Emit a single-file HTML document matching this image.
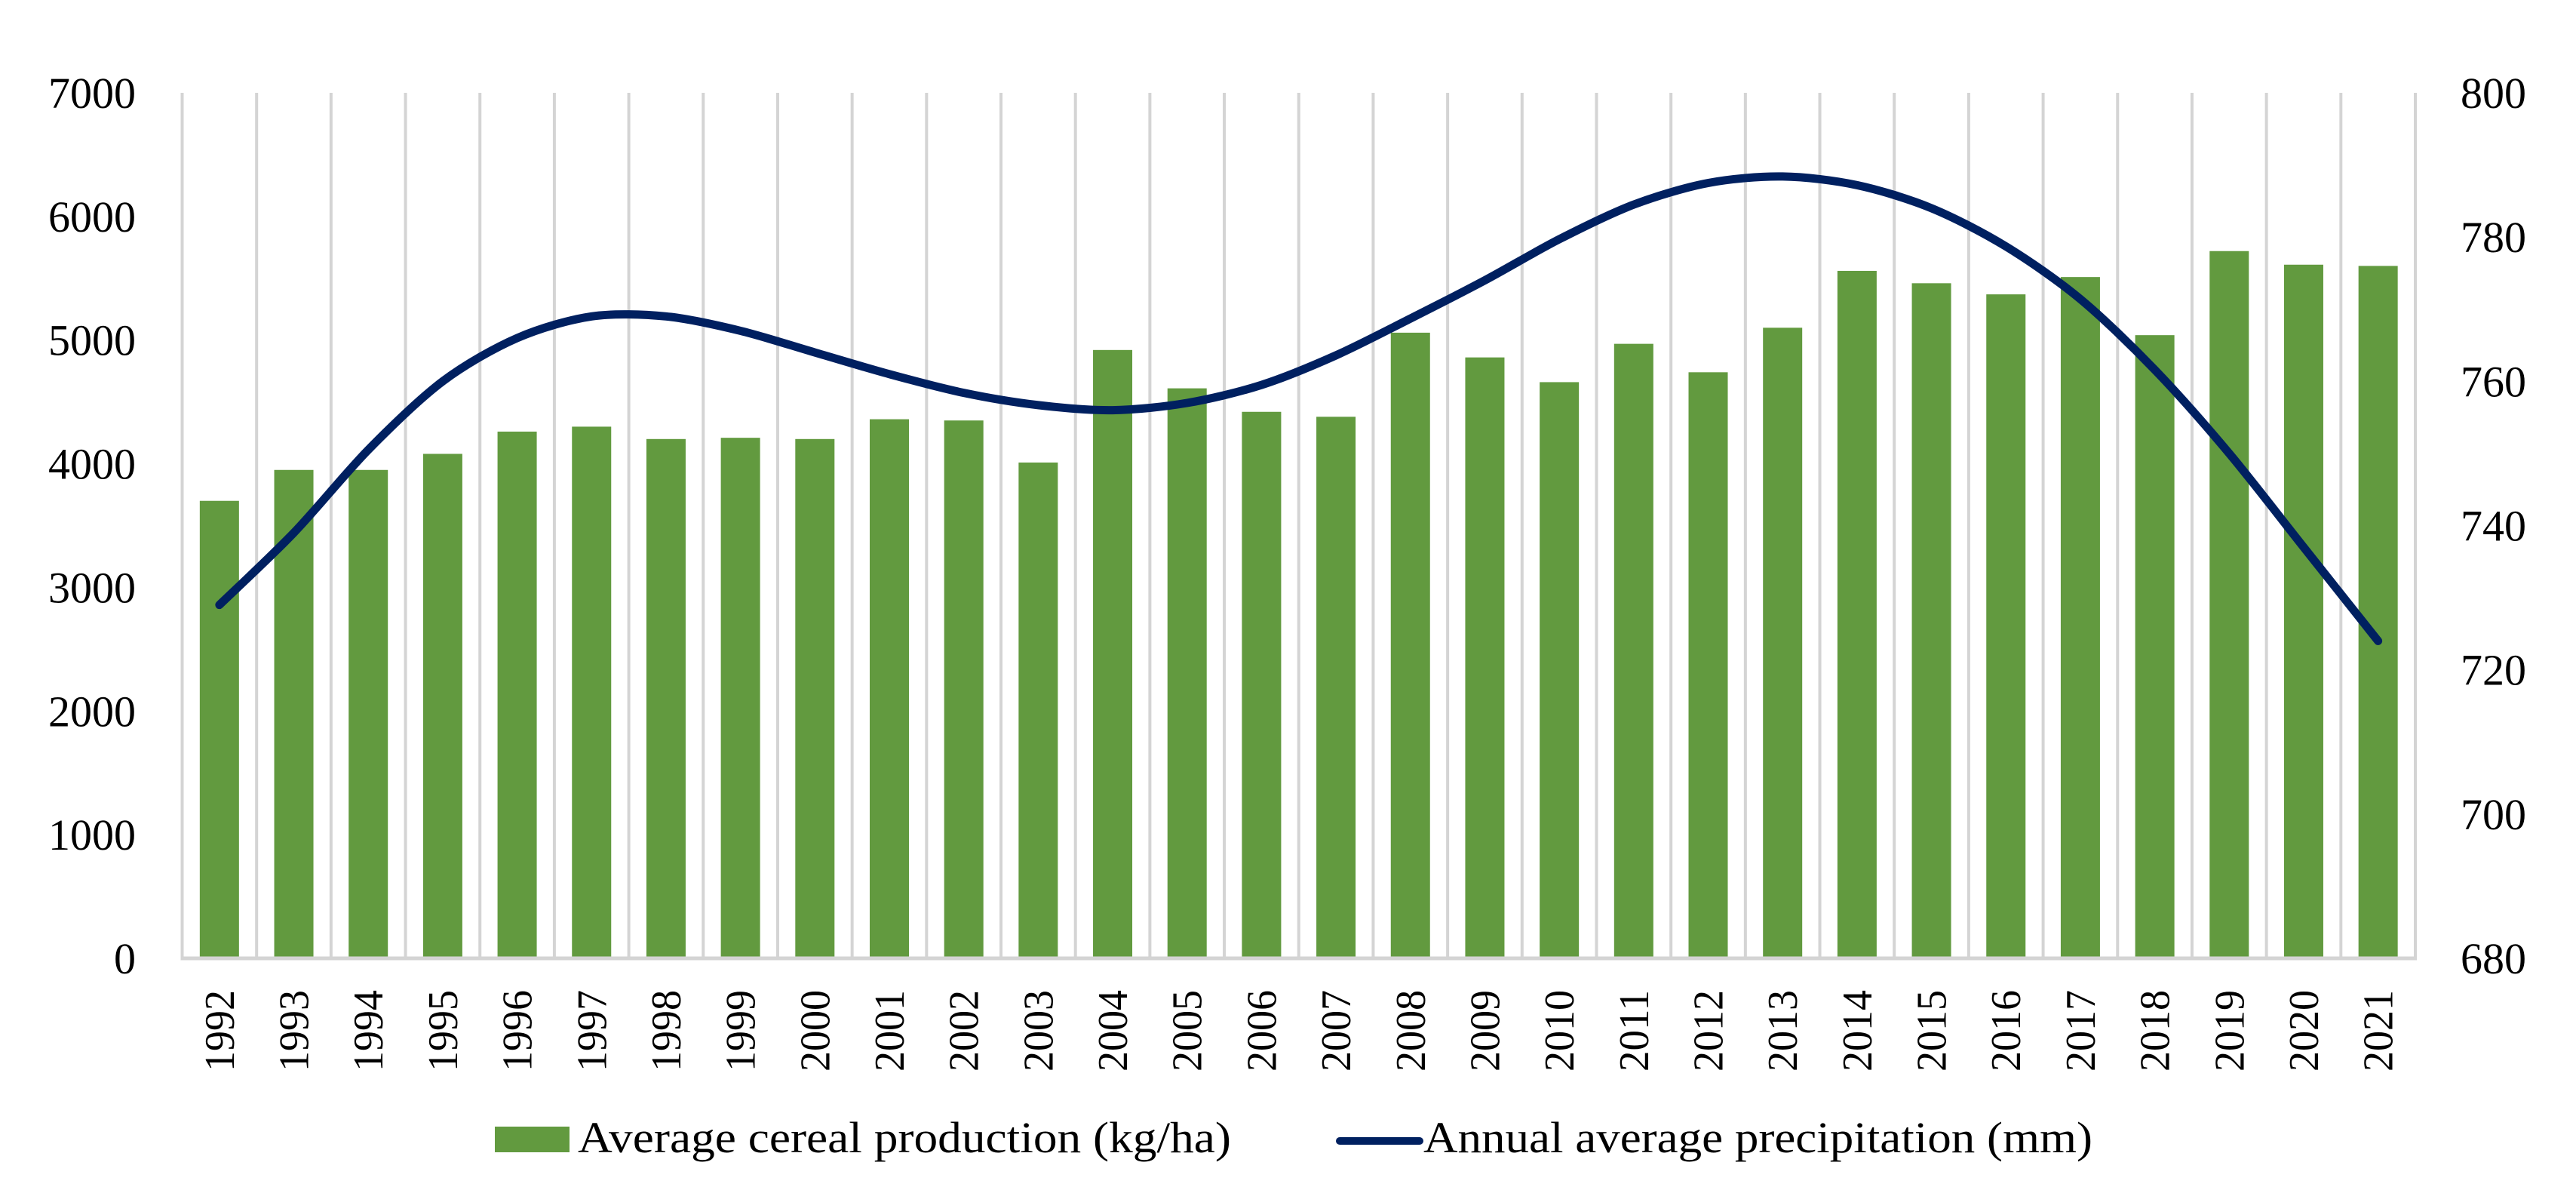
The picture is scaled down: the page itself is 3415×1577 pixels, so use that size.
<!DOCTYPE html>
<html><head><meta charset="utf-8"><style>
html,body{margin:0;padding:0;background:#fff;}
svg{display:block;font-family:"Liberation Serif",serif;}
</style></head><body>
<svg id="chart" width="3415" height="1577" viewBox="0 0 3415 1577" xmlns="http://www.w3.org/2000/svg">
<g id="grid"></g>
<g id="bars"></g>
<g id="axes"></g>
<g id="line"></g>
<g id="legend">
  <rect x="656" y="1493" width="99" height="34" fill="#629a3f"/>
  <text x="766" y="1527" font-size="58" textLength="866" lengthAdjust="spacingAndGlyphs">Average cereal production (kg/ha)</text>
  <line x1="1776" y1="1512" x2="1882" y2="1512" stroke="#002060" stroke-width="10" stroke-linecap="round"/>
  <text x="1887" y="1527" font-size="58" textLength="887" lengthAdjust="spacingAndGlyphs">Annual average precipitation (mm)</text>
</g>
</svg>
<script>
const years = ["1992","1993","1994","1995","1996","1997","1998","1999","2000","2001","2002","2003","2004","2005","2006","2007","2008","2009","2010","2011","2012","2013","2014","2015","2016","2017","2018","2019","2020","2021"];
const cereal = [3700,3950,3950,4080,4260,4300,4200,4210,4200,4360,4350,4010,4920,4610,4420,4380,5060,4860,4660,4970,4740,5100,5560,5460,5370,5510,5040,5720,5610,5600];
const precip = [729,739,750.5,760,766,769,769,767,764,761,758.4,756.7,756,757,759.5,763.6,768.7,774,779.7,784.5,787.5,788.4,787.2,784,778.7,771.4,761.6,750,737,724];
const leftTicks = [0,1000,2000,3000,4000,5000,6000,7000];
const rightTicks = [680,700,720,740,760,780,800];

const NS = "http://www.w3.org/2000/svg";
const X0 = 241.5, X1 = 3202, YB = 1270, YT = 123;
const catW = (X1 - X0) / years.length;
const xc = i => X0 + catW * (i + 0.5);
const yL = v => YB - (v - 0) / 7000 * (YB - YT);
const yR = v => YB - (v - 680) / 120 * (YB - YT);
function mk(tag, attrs, parent){const e=document.createElementNS(NS,tag);for(const k in attrs)e.setAttribute(k,attrs[k]);parent.appendChild(e);return e;}

const grid = document.getElementById('grid');
for (let i = 0; i <= years.length; i++) {
  const gx = X0 + catW * i;
  const l = mk('line', {x1:gx, y1:YT, x2:gx, y2:YB, stroke:'#d4d4d4', 'stroke-width':4}, grid);
  
  
}
const bars = document.getElementById('bars');
const bw = 52;
cereal.forEach((v, i) => {
  const r = mk('rect', {x:xc(i)-bw/2, y:yL(v), width:bw, height:YB-yL(v), fill:'#629a3f'}, bars);
  
  
});
const axes = document.getElementById('axes');
const ax = mk('line', {x1:X0-2, y1:YB, x2:X1+2, y2:YB, stroke:'#d4d4d4', 'stroke-width':5}, axes);


leftTicks.forEach(v => {
  const t = mk('text', {x:180, y:yL(v)+20, 'font-size':58, 'text-anchor':'end'}, axes);
  t.textContent = v;
  
  
});
rightTicks.forEach(v => {
  const t = mk('text', {x:3262, y:yR(v)+20, 'font-size':58}, axes);
  t.textContent = v;
  
  
});
years.forEach((y, i) => {
  const cx = xc(i) + 19, cy = 1420;
  const t = mk('text', {x:cx, y:cy, 'font-size':56, transform:`rotate(-90 ${cx} ${cy})`, textLength:108, lengthAdjust:'spacingAndGlyphs'}, axes);
  t.textContent = y;
  
  
});
const pts = precip.map((v, i) => [xc(i), yR(v)]);
let d = `M${pts[0][0]},${pts[0][1]}`;
for (let i = 0; i < pts.length - 1; i++) {
  const p0 = pts[Math.max(0,i-1)], p1 = pts[i], p2 = pts[i+1], p3 = pts[Math.min(pts.length-1,i+2)];
  const t = 0.15;
  const c1 = [p1[0]+(p2[0]-p0[0])*t, p1[1]+(p2[1]-p0[1])*t];
  const c2 = [p2[0]-(p3[0]-p1[0])*t, p2[1]-(p3[1]-p1[1])*t];
  d += ` C${c1[0]},${c1[1]} ${c2[0]},${c2[1]} ${p2[0]},${p2[1]}`;
}
const lineG = document.getElementById('line');
const path = mk('path', {d:d, fill:'none', stroke:'#002060', 'stroke-width':11, 'stroke-linecap':'round', 'stroke-linejoin':'round'}, lineG);


</script>
</body></html>
